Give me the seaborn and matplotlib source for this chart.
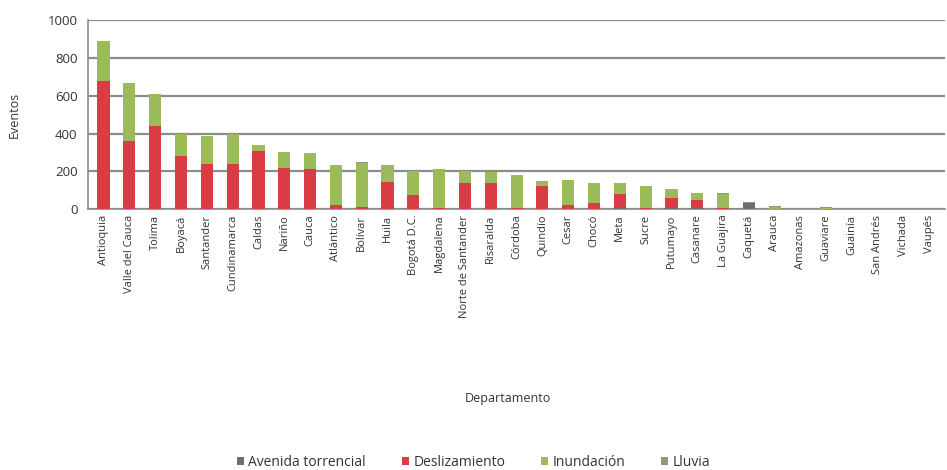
import numpy as np
import pandas as pd
import matplotlib
matplotlib.use("Agg")
import matplotlib.pyplot as plt
from matplotlib.patches import Patch
import seaborn as sns

departamentos = [
    "Antioquia", "Valle del Cauca", "Tolima", "Boyacá", "Santander", "Cundinamarca",
    "Caldas", "Nariño", "Cauca", "Atlántico", "Bolívar", "Huila", "Bogotá D.C.",
    "Magdalena", "Norte de Santander", "Risaralda", "Córdoba", "Quindío", "Cesar",
    "Chocó", "Meta", "Sucre", "Putumayo", "Casanare", "La Guajira", "Caquetá",
    "Arauca", "Amazonas", "Guaviare", "Guainía", "San Andrés", "Vichada", "Vaupés",
]
avenida_torrencial = [0, 0, 0, 0, 0, 0, 0, 0, 0, 0, 0, 0, 0, 0, 0, 0, 0, 0, 0,
                      0, 5, 0, 5, 5, 0, 30, 0, 0, 0, 0, 0, 0, 0]
deslizamiento = [680, 360, 440, 280, 240, 240, 310, 220, 215, 20, 10, 145, 75, 5,
                 140, 140, 5, 125, 20, 30, 75, 5, 55, 45, 5, 5, 0, 0, 0, 0, 0, 0, 0]
inundacion = [210, 310, 170, 120, 145, 160, 30, 85, 80, 215, 235, 90, 125, 205,
              60, 55, 175, 25, 135, 110, 60, 120, 45, 35, 75, 0, 12, 3, 8, 3, 3, 2, 2]
lluvia = [0, 0, 0, 0, 0, 0, 0, 0, 0, 0, 5, 0, 0, 0, 0, 0, 0, 0, 0,
          0, 0, 0, 0, 0, 5, 5, 5, 0, 2, 0, 0, 0, 0]

series = ["Avenida torrencial", "Deslizamiento", "Inundación", "Lluvia"]
valores = [avenida_torrencial, deslizamiento, inundacion, lluvia]
colores = ["#6e6e6e", "#da3c46", "#9bbb59", "#8f9a78"]

df = pd.DataFrame({"Departamento": departamentos})
for nombre, vals in zip(series, valores):
    df[nombre] = vals

sns.set_style("white")
plt.rcParams["font.family"] = ["Open Sans", "DejaVu Sans"]

fig = plt.figure(figsize=(9.47, 4.70), dpi=100)
ax = fig.add_axes([0.093, 0.555, 0.905, 0.402])

# stacked bars: draw cumulative totals from the top series down
acum = df[series].cumsum(axis=1)
for i in range(len(series) - 1, -1, -1):
    sns.barplot(data=df.assign(total=acum[series[i]]), x="Departamento", y="total",
                color=colores[i], width=0.47, saturation=1, ax=ax, zorder=3,
                linewidth=0)

ax.set_ylim(0, 1000)
ax.set_yticks(np.arange(0, 1001, 200))
ax.set_xlim(-0.6, len(departamentos) - 0.4)
ax.yaxis.grid(True, color="#8c8c8c", linewidth=1.6, zorder=0)
ax.set_axisbelow(True)
for s in ["top", "right"]:
    ax.spines[s].set_visible(False)
for s in ["left", "bottom"]:
    ax.spines[s].set_color("#8c8c8c")
    ax.spines[s].set_linewidth(1.2)

ax.set_xticks(range(len(departamentos)))
ax.set_xticklabels(departamentos, rotation=90, fontsize=8, color="#333333")
ax.set_xticks(np.arange(-0.5, len(departamentos), 1), minor=True)
ax.tick_params(axis="x", which="major", length=0, pad=4)
ax.tick_params(axis="x", which="minor", length=4, color="#8c8c8c", direction="out")
ax.tick_params(axis="y", length=4, color="#8c8c8c", labelsize=9.5, labelcolor="#333333")

ax.set_xlabel("Departamento", fontsize=9, color="#333333")
ax.set_ylabel("Eventos", fontsize=9, color="#333333")
ax.xaxis.set_label_coords(0.49, -0.97)
ax.yaxis.set_label_coords(-0.078, 0.5)

handles = [Patch(facecolor=c, edgecolor="none") for c in colores]
fig.legend(handles, series, loc="center", bbox_to_anchor=(0.5, 0.017), ncol=4,
           frameon=False, fontsize=10, handlelength=0.5, handleheight=0.5,
           handletextpad=0.3, columnspacing=2.6, labelcolor="#333333")

fig.savefig("out.png", dpi=100)
